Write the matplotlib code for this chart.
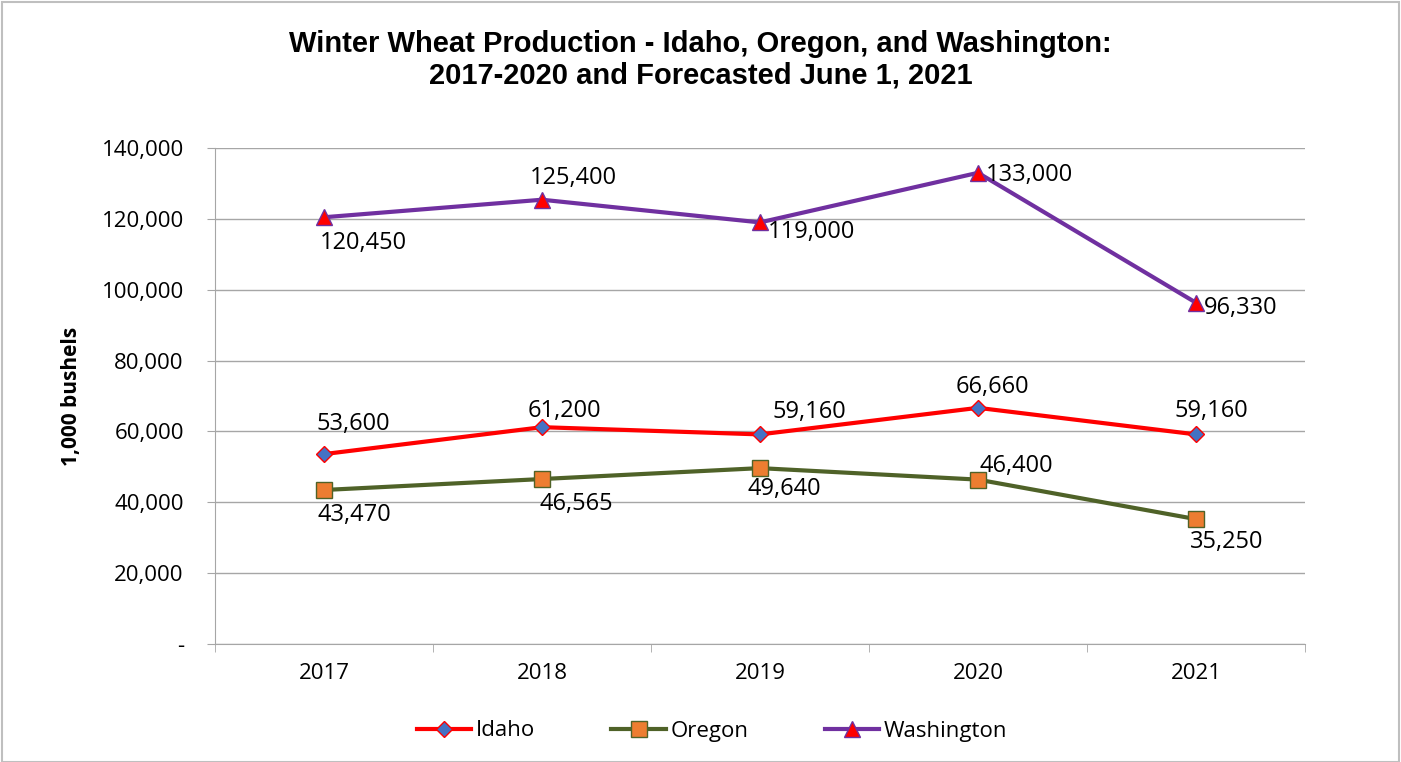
import matplotlib.pyplot as plt
from matplotlib.patches import Rectangle
from matplotlib.ticker import FuncFormatter, FixedLocator

years = ["2017", "2018", "2019", "2020", "2021"]
idaho = [53600, 61200, 59160, 66660, 59160]
oregon = [43470, 46565, 49640, 46400, 35250]
washington = [120450, 125400, 119000, 133000, 96330]

# label offsets (pixels) from each point, left-aligned text
off_idaho = [(-8, 30), (-14, 16), (12, 22), (-22, 21), (-21, 23)]
off_oregon = [(-6, -25), (-2, -25), (-12, -21), (2, 14), (-6, -23)]
off_wash = [(-4, -26), (-12, 22), (8, -10), (8, -2), (8, -5)]

plt.rcParams['font.family'] = ['Open Sans', 'DejaVu Sans']

fig = plt.figure(figsize=(14.01, 7.62), dpi=100)
ax = fig.add_axes([215 / 1401, 1 - 644 / 762, 1090 / 1401, 496 / 762])

x = list(range(len(years)))
ax.plot(x, washington, color="#7030A0", lw=3, marker="^", ms=11,
        mfc="#FF0000", mec="#7030A0", mew=1, label="Washington", zorder=3)
ax.plot(x, idaho, color="#FF0000", lw=3, marker="D", ms=8,
        mfc="#4472C4", mec="#FF0000", mew=1, label="Idaho", zorder=3)
ax.plot(x, oregon, color="#4F6228", lw=3, marker="s", ms=11,
        mfc="#ED7D31", mec="#4F6228", mew=1, label="Oregon", zorder=3)

for vals, offs in ((idaho, off_idaho), (oregon, off_oregon), (washington, off_wash)):
    for i, v in enumerate(vals):
        ax.annotate(f"{v:,}", (i, v), xytext=offs[i], textcoords="offset pixels",
                    ha="left", va="center", fontsize=17, color="black", zorder=4)

ax.set_xlim(-0.5, 4.5)
ax.set_ylim(0, 140000)
ax.set_yticks(range(0, 140001, 20000))
ax.yaxis.set_major_formatter(FuncFormatter(lambda v, p: "-" if v == 0 else f"{int(v):,}"))
ax.set_xticks(x)
ax.set_xticklabels(years)
ax.xaxis.set_minor_locator(FixedLocator([-0.5, 0.5, 1.5, 2.5, 3.5, 4.5]))
ax.tick_params(axis="x", which="major", length=0, pad=14, labelsize=16)
ax.tick_params(axis="x", which="minor", length=6, color="#A6A6A6")
ax.tick_params(axis="y", length=6, color="#A6A6A6", labelsize=16, pad=16.5)
ax.grid(axis="y", color="#A6A6A6", lw=1)
ax.set_axisbelow(True)
for s in ("top", "right"):
    ax.spines[s].set_visible(False)
for s in ("left", "bottom"):
    ax.spines[s].set_color("#A6A6A6")

ax.set_ylabel("1,000 bushels", fontsize=15, fontweight="bold", labelpad=14)

fig.text(0.5, 1 - 44 / 762, "Winter Wheat Production - Idaho, Oregon, and Washington:",
         ha="center", va="center", fontsize=21, fontweight="bold", family="Liberation Sans")
fig.text(0.5, 1 - 76 / 762, "2017-2020 and Forecasted June 1, 2021",
         ha="center", va="center", fontsize=21, fontweight="bold", family="Liberation Sans")

h, l = ax.get_legend_handles_labels()
order = [1, 2, 0]
fig.legend([h[i] for i in order], [l[i] for i in order], loc="center",
           bbox_to_anchor=(712 / 1401, 1 - 731 / 762), ncol=3, frameon=False,
           fontsize=16, columnspacing=3.45, handlelength=2.45, handletextpad=0.2)

fig.patches.append(Rectangle((2 / 1401, 0), 1 - 4 / 1401, 1 - 2 / 762, transform=fig.transFigure,
                             fill=False, edgecolor="#BFBFBF", lw=1.5))

fig.savefig("out.png", dpi=100)
